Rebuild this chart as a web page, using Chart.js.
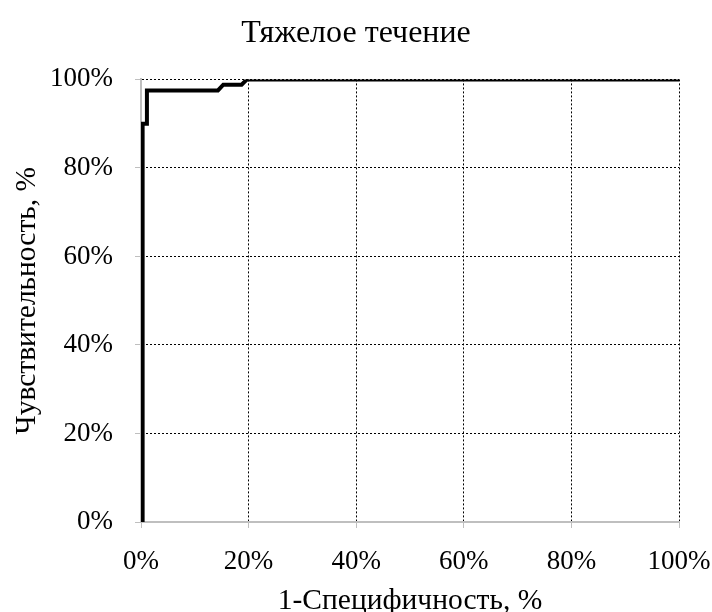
<!DOCTYPE html>
<html>
<head>
<meta charset="utf-8">
<script src="https://cdn.jsdelivr.net/npm/chart.js@4.4.0/dist/chart.umd.min.js"></script>
<style>
  html, body { margin: 0; padding: 0; background: #ffffff; }
  #wrap { width: 712px; height: 612px; }
</style>
</head>
<body>
<div id="wrap"><canvas id="rocChart" width="712" height="612"></canvas></div>
<script>
// ROC-кривая: 1-специфичность (x) против чувствительности (y), в процентах
const fpr = [0.3, 0.3, 1.1, 1.1, 14.3, 15.3, 18.7, 19.7, 100];
const tpr = [0, 90, 90, 97.5, 97.5, 98.8, 98.8, 100, 100];
const xTicks = [0, 20, 40, 60, 80, 100];
const yTicks = [0, 20, 40, 60, 80, 100];

const FONT = "'Liberation Serif', 'Times New Roman', serif";
const TICK_SIZE = 27;
const AXIS_TITLE_SIZE = 29.5;
const TITLE_SIZE = 32;

const points = fpr.map(function(x, i) {
    return { x: x, y: tpr[i] };
});

const ctx = document.getElementById('rocChart').getContext('2d');
const rocChart = new Chart(ctx, {
    type: 'scatter',
    data: {
        datasets: [{
            label: 'ROC',
            data: points,
            showLine: true,
            borderColor: '#000000',
            borderWidth: 4,
            pointRadius: 0,
            tension: 0,
            fill: false
        }]
    },
    options: {
        responsive: false,
        animation: false,
        layout: {
            padding: { left: 0, right: 0, top: 0, bottom: 0 }
        },
        scales: {
            x: {
                type: 'linear',
                min: 0,
                max: 100,
                afterBuildTicks: function(scale) {
                    scale.ticks = xTicks.map(function(v) { return { value: v }; });
                },
                afterFit: function(scale) {
                    scale.height = 90;
                    scale.paddingLeft = 0;
                    scale.paddingRight = 33;
                },
                ticks: {
                    color: '#000000',
                    font: { family: FONT, size: TICK_SIZE },
                    padding: 18,
                    maxRotation: 0,
                    callback: function(value) {
                        return value + '%';
                    }
                },
                grid: {
                    color: '#000000',
                    lineWidth: 1,
                    tickColor: '#bfbfbf',
                    tickLength: 6,
                    tickBorderDash: []
                },
                border: {
                    color: '#bfbfbf',
                    width: 2,
                    dash: [2, 2]
                },
                title: {
                    display: true,
                    text: '1-Специфичность, %',
                    color: '#000000',
                    font: { family: FONT, size: AXIS_TITLE_SIZE },
                    padding: { top: 0, bottom: -7 }
                }
            },
            y: {
                type: 'linear',
                min: 0,
                max: 100,
                afterBuildTicks: function(scale) {
                    scale.ticks = yTicks.map(function(v) { return { value: v }; });
                },
                afterFit: function(scale) {
                    scale.width = 141;
                },
                ticks: {
                    color: '#000000',
                    font: { family: FONT, size: TICK_SIZE },
                    padding: 22,
                    callback: function(value) {
                        return value + '%';
                    }
                },
                grid: {
                    color: '#000000',
                    lineWidth: 1,
                    tickColor: '#bfbfbf',
                    tickLength: 6,
                    tickBorderDash: []
                },
                border: {
                    color: '#bfbfbf',
                    width: 2,
                    dash: [2, 2]
                },
                title: {
                    display: true,
                    text: 'Чувствительность, %',
                    color: '#000000',
                    font: { family: FONT, size: AXIS_TITLE_SIZE },
                    padding: { top: 10, bottom: 0 }
                }
            }
        },
        plugins: {
            legend: { display: false },
            tooltip: { enabled: false },
            title: {
                display: true,
                text: 'Тяжелое течение',
                color: '#000000',
                font: { family: FONT, size: TITLE_SIZE, weight: 'normal' },
                padding: { top: 14, bottom: 27 }
            }
        }
    }
});
</script>
</body>
</html>
